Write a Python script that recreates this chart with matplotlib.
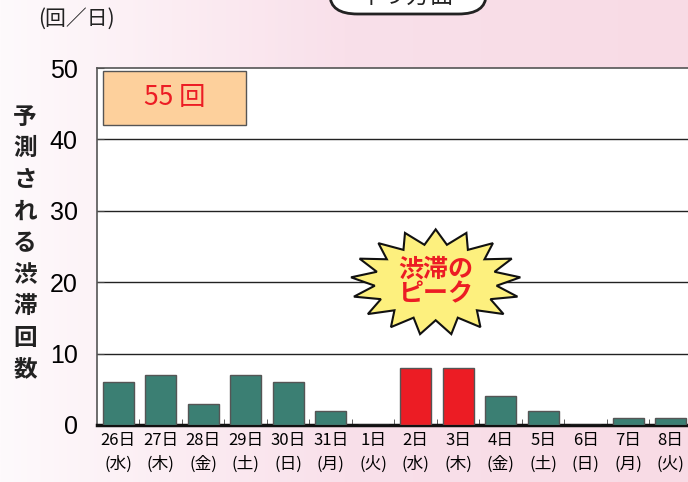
import matplotlib
matplotlib.use("Agg")
import matplotlib.pyplot as plt
from matplotlib.patches import Polygon, FancyBboxPatch, Rectangle
from matplotlib.colors import LinearSegmentedColormap
import numpy as np

plt.rcParams['font.family'] = ['Noto Sans CJK JP', 'DejaVu Sans']

# data
days = ['26日', '27日', '28日', '29日', '30日', '31日', '1日', '2日', '3日', '4日', '5日', '6日', '7日', '8日']
weekdays = ['水', '木', '金', '土', '日', '月', '火', '水', '木', '金', '土', '日', '月', '火']
counts = [6, 7, 3, 7, 6, 2, 0, 8, 8, 4, 2, 0, 1, 1]
peak = ['2日', '3日']
total = 55

teal = '#3b7f73'
red = '#ec1c24'

fig = plt.figure(figsize=(6.88, 4.82), dpi=100)

# pink gradient background
bg = fig.add_axes([0, 0, 1, 1], zorder=-10)
grad = np.linspace(0, 1, 256).reshape(1, -1)
cmap = LinearSegmentedColormap.from_list('pink', ['#fefafc', '#f9e0ea', '#f8dbe5'])
bg.imshow(grad, aspect='auto', cmap=cmap, extent=[0, 1, 0, 1])
bg.set_axis_off()

ax = fig.add_axes([97/688, 57/482, 603/688, 357/482])
x = np.arange(len(days))
colors = [red if d in peak else teal for d in days]
ax.bar(x, counts, width=0.73, color=colors, edgecolor='#555555', linewidth=1.0, zorder=6)

ax.set_xlim(-0.5, 13.69)
ax.set_ylim(0, 50)
ax.set_facecolor('white')

for v in [10, 20, 30, 40]:
    ax.axhline(v, color='#222222', lw=1.0, zorder=1)

ax.set_yticks([0, 10, 20, 30, 40, 50])
ax.set_yticklabels(['0', '10', '20', '30', '40', '50'], fontsize=18, family='Liberation Sans')
ax.tick_params(axis='y', direction='in', length=5, color='#444444', pad=14)
ax.set_xticks(x)
ax.set_xticklabels([f'{d}\n({w})' for d, w in zip(days, weekdays)], fontsize=12, linespacing=1.5)
ax.tick_params(axis='x', length=0, pad=5)
ax.set_xticks(x[:-1] + 0.5, minor=True)
ax.tick_params(axis='x', which='minor', direction='in', length=4, color='#444444')

for s in ['top', 'left', 'right']:
    ax.spines[s].set_color('#555555')
    ax.spines[s].set_linewidth(1.2)
ax.spines['bottom'].set_color('#111111')
ax.spines['bottom'].set_linewidth(2.5)
ax.spines['bottom'].set_zorder(5)

# total box
ax.add_patch(Rectangle((-0.36, 42.0), 3.37, 7.6, facecolor='#fdd09c', edgecolor='#555555', lw=1.0, zorder=4))
ax.text(1.33, 45.8, f'{total} 回', color=red, fontsize=19, ha='center', va='center', zorder=5)

# starburst
cx, cy = 7.47, 20.0
n = 17
ang = np.linspace(0, 2*np.pi, 2*n, endpoint=False) + np.pi/2
rad = np.where(np.arange(2*n) % 2 == 0, 1.0, 0.72)
px = cx + 2.0*rad*np.cos(ang)
py = cy + 7.4*rad*np.sin(ang)
ax.add_patch(Polygon(np.column_stack([px, py]), closed=True, facecolor='#fdf07e', edgecolor='#111111', lw=1.5, zorder=7))
ax.text(cx, cy, '渋滞の\nピーク', color=red, fontsize=18, fontweight='bold', ha='center', va='center', linespacing=1.05, zorder=8)

# texts outside axes
fig.text(38/688, 1 - 19/482, '(回／日)', fontsize=15, ha='left', va='center', color='#222222')
fig.text(25/688, 1 - 243/482, '\n'.join('予測される渋滞回数'), fontsize=17, fontweight='bold',
         ha='center', va='center', linespacing=1.4, color='#222222')

# clipped heading bubble
fig.patches.append(FancyBboxPatch((330/688, 1 - 14/482), 156/688, 40/482,
                                  boxstyle='round,pad=0,rounding_size=0.04', transform=fig.transFigure,
                                  facecolor='white', edgecolor='#222222', lw=2, figure=fig))
fig.text(407/688, 1 + 4/482, '下り方面', fontsize=17, ha='center', va='center', color='#222222')

fig.savefig('out.png', dpi=100)
